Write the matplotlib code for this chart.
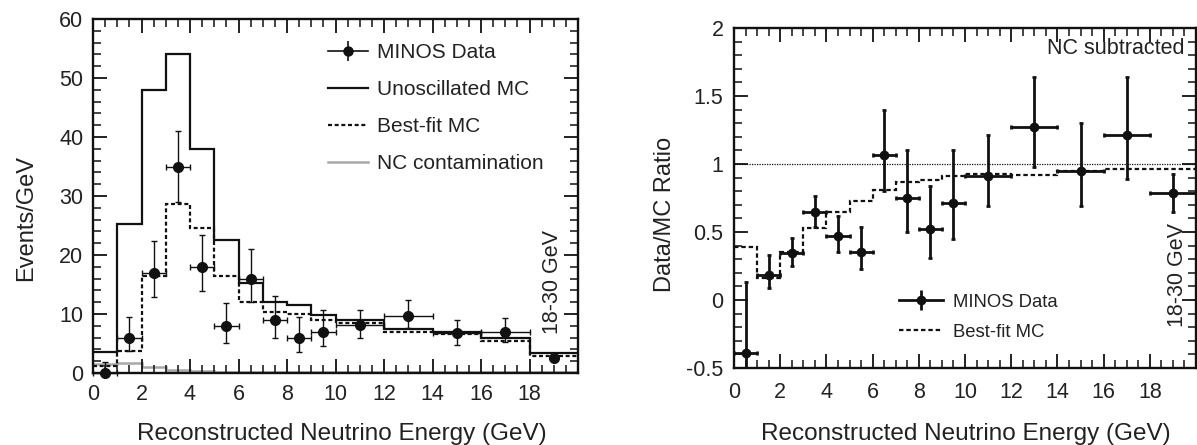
import matplotlib
matplotlib.use("Agg")
import matplotlib.pyplot as plt
from matplotlib.lines import Line2D
from matplotlib.legend_handler import HandlerTuple
from matplotlib.ticker import MultipleLocator, FixedLocator, FixedFormatter
import numpy as np

plt.rcParams['font.family'] = ['Liberation Sans', 'DejaVu Sans']
plt.rcParams['axes.unicode_minus'] = False

# ---------------- data ----------------
bin_edges = [0, 1, 2, 3, 4, 5, 6, 7, 8, 9, 10, 12, 14, 16, 18, 30]
bin_centers = [0.5, 1.5, 2.5, 3.5, 4.5, 5.5, 6.5, 7.5, 8.5, 9.5, 11, 13, 15, 17, 19]
bin_halfwidth = [0.5] * 10 + [1, 1, 1, 1, 0]

# left panel: events / GeV
unosc_mc = [3.5, 25.2, 48, 54, 38, 22.5, 15.2, 12.0, 11.5, 9.8, 8.9, 7.4, 6.9, 5.9, 3.45]
bestfit_mc = [1.2, 3.7, 16.4, 28.6, 24.5, 16.4, 12.1, 10.3, 10.0, 8.9, 8.5, 7.0, 6.6, 5.4, 2.9]
nc_contam = [1.5, 1.65, 1.0, 0.5, 0.3, 0.25, 0.2, 0.2, 0.15, 0.15, 0.1, 0.1, 0.1, 0.1, 0.1]
data_events = [0.0, 6.0, 17.0, 35.0, 18.0, 8.0, 16.0, 9.0, 6.0, 7.0, 8.1, 9.7, 6.7, 7.0, 2.6]
data_events_lo = [0.0, 3.8, 12.9, 29.0, 13.9, 5.1, 12.1, 6.0, 3.6, 4.5, 6.0, 7.6, 4.7, 5.3, 2.3]
data_events_hi = [1.8, 9.5, 22.4, 41.0, 23.4, 11.9, 21.1, 13.1, 9.5, 10.7, 10.6, 12.3, 8.9, 9.4, 2.9]

# right panel: data / MC ratio (NC subtracted)
ratio_bestfit = [0.39, 0.165, 0.35, 0.53, 0.645, 0.73, 0.81, 0.865, 0.88, 0.91, 0.93, 0.92, 0.95, 0.96, 0.965]
ratio_data = [-0.39, 0.185, 0.345, 0.645, 0.47, 0.353, 1.066, 0.75, 0.52, 0.715, 0.915, 1.274, 0.95, 1.215, 0.79]
ratio_lo = [-0.9, 0.086, 0.25, 0.54, 0.355, 0.226, 0.80, 0.50, 0.31, 0.45, 0.69, 0.98, 0.69, 0.89, 0.645]
ratio_hi = [0.135, 0.33, 0.458, 0.765, 0.62, 0.535, 1.40, 1.10, 0.84, 1.10, 1.21, 1.64, 1.30, 1.64, 0.93]

left_yticks = [0, 10, 20, 30, 40, 50, 60]
right_yticks = [-0.5, 0, 0.5, 1, 1.5, 2]
right_yticklabels = ['-0.5', '0', '0.5', '1', '1.5', '2']
xticks = [0, 2, 4, 6, 8, 10, 12, 14, 16, 18, 20]
xticklabels = ['0', '2', '4', '6', '8', '10', '12', '14', '16', '18', '']

# ---------------- figure ----------------
W, H = 1197, 445
fig = plt.figure(figsize=(W / 100, H / 100), dpi=100)
ax1 = fig.add_axes([93 / W, (H - 373) / H, 485 / W, 354 / H])
ax2 = fig.add_axes([734 / W, (H - 368) / H, 462 / W, 340 / H])

K = '#111111'
GRAY = '#a8a8a8'
TXT = '#222222'
TICKFS = 15.5

def style_axes(ax):
    for s in ax.spines.values():
        s.set_linewidth(1.7)
        s.set_color(K)
    ax.tick_params(which='both', direction='in', top=True, right=True,
                   color=K, labelsize=TICKFS, labelcolor=TXT)
    ax.tick_params(which='major', length=10, width=1.3)
    ax.tick_params(which='minor', length=5.5, width=1.1)
    ax.xaxis.set_major_locator(FixedLocator(xticks))
    ax.xaxis.set_major_formatter(FixedFormatter(xticklabels))
    ax.xaxis.set_minor_locator(MultipleLocator(0.5))
    ax.set_xlim(0, 20)

def data_handle(lw, ms, barms):
    return (Line2D([], [], color=K, lw=lw),
            Line2D([], [], color=K, ls='none', marker='|', ms=barms, mew=lw),
            Line2D([], [], color=K, ls='none', marker='o', ms=ms))

# ---- left panel ----
style_axes(ax1)
ax1.set_ylim(0, 60)
ax1.yaxis.set_major_locator(FixedLocator(left_yticks))
ax1.yaxis.set_minor_locator(MultipleLocator(2))
ax1.tick_params(axis='x', pad=8)
ax1.tick_params(axis='y', pad=7)

x_lo = np.array(data_events) - np.array(data_events_lo)
x_hi = np.array(data_events_hi) - np.array(data_events)

ax1.stairs(nc_contam, bin_edges, baseline=None, color=GRAY, lw=1.8)
ax1.stairs(unosc_mc, bin_edges, baseline=None, color=K, lw=1.6)
ax1.stairs(bestfit_mc, bin_edges, baseline=None, color=K, lw=1.6,
           linestyle=(0, (1.8, 1.2)))
eb1 = ax1.errorbar(bin_centers, data_events, yerr=[x_lo, x_hi], xerr=bin_halfwidth,
                   fmt='o', color=K, ms=7, elinewidth=1.0, capsize=2.5, capthick=1.0,
                   clip_on=False, zorder=5)
for art in eb1.get_children():
    art.set_clip_on(False)

h_unosc = Line2D([], [], color=K, lw=1.6)
h_best = Line2D([], [], color=K, lw=1.6, linestyle=(0, (1.8, 1.2)))
h_nc = Line2D([], [], color=GRAY, lw=1.8)
leg1 = ax1.legend([data_handle(1.2, 6.5, 14.5), h_unosc, h_best, h_nc],
                  ['MINOS Data', 'Unoscillated MC', 'Best-fit MC', 'NC contamination'],
                  handler_map={tuple: HandlerTuple(ndivide=1)},
                  loc='upper left', bbox_to_anchor=(0.4845, 0.932), frameon=False,
                  fontsize=15, borderpad=0, borderaxespad=0, handlelength=1.9,
                  handletextpad=0.45, labelspacing=0.86)
for t in leg1.get_texts():
    t.set_color(TXT)

ax1.text(0.948, 0.258, '18-30 GeV', transform=ax1.transAxes, rotation=90,
         ha='center', va='center', fontsize=15.5, color=TXT)

# ---- right panel ----
style_axes(ax2)
ax2.set_ylim(-0.5, 2)
ax2.yaxis.set_major_locator(FixedLocator(right_yticks))
ax2.yaxis.set_major_formatter(FixedFormatter(right_yticklabels))
ax2.yaxis.set_minor_locator(MultipleLocator(0.1))
ax2.tick_params(axis='x', pad=10)
ax2.tick_params(axis='y', pad=7.5)

ax2.axhline(1, color=K, lw=0.9, linestyle=(0, (1, 1)))
ax2.stairs(ratio_bestfit, bin_edges, baseline=None, color=K, lw=1.6,
           linestyle=(0, (2.0, 1.3)))
r_lo = np.array(ratio_data) - np.array(ratio_lo)
r_hi = np.array(ratio_hi) - np.array(ratio_data)
r_xerr = [0.5] * 10 + [1, 1, 1, 1, 1]
eb2 = ax2.errorbar(bin_centers, ratio_data, yerr=[r_lo, r_hi], xerr=r_xerr,
                   fmt='o', color=K, ms=6, elinewidth=2.0, capsize=1.5, capthick=2.0,
                   zorder=5)
h_best2 = Line2D([], [], color=K, lw=1.6, linestyle=(0, (2.0, 1.3)))
leg2 = ax2.legend([data_handle(2.0, 6, 15), h_best2], ['MINOS Data', 'Best-fit MC'],
                  handler_map={tuple: HandlerTuple(ndivide=1)},
                  loc='upper left', bbox_to_anchor=(0.357, 0.219), frameon=False,
                  fontsize=13.3, borderpad=0, borderaxespad=0, handlelength=2.4,
                  handletextpad=0.55, labelspacing=0.72)
for t in leg2.get_texts():
    t.set_color(TXT)

ax2.text(0.976, 0.941, 'NC subtracted', transform=ax2.transAxes,
         ha='right', va='center', fontsize=15.5, color=TXT)
ax2.text(0.961, 0.274, '18-30 GeV', transform=ax2.transAxes, rotation=90,
         ha='center', va='center', fontsize=15.5, color=TXT)

# ---- axis labels ----
LABFS = 17.5
fig.text(342 / W, 1 - 440 / H, 'Reconstructed Neutrino Energy (GeV)', ha='center',
         va='baseline', fontsize=LABFS, color=TXT)
fig.text(966 / W, 1 - 440 / H, 'Reconstructed Neutrino Energy (GeV)', ha='center',
         va='baseline', fontsize=LABFS, color=TXT)
fig.text(32 / W, 1 - 218 / H, 'Events/GeV', rotation=90, rotation_mode='anchor',
         ha='center', va='baseline', fontsize=17, color=TXT)
fig.text(671 / W, 1 - 214 / H, 'Data/MC Ratio', rotation=90, rotation_mode='anchor',
         ha='center', va='baseline', fontsize=17, color=TXT)

fig.savefig('out.png', dpi=100)
